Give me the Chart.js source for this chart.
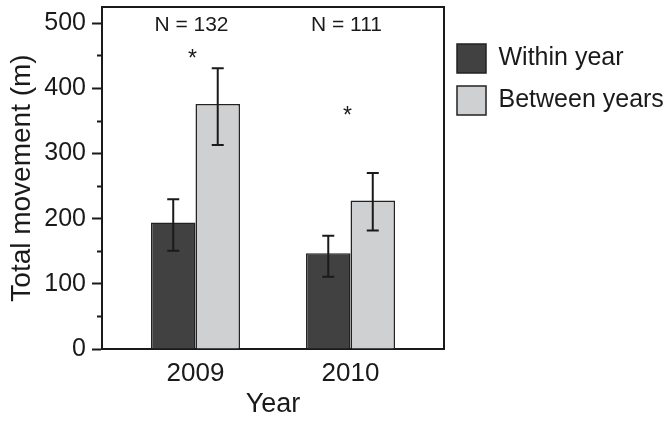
<!DOCTYPE html>
<html>
<head>
<meta charset="utf-8">
<script src="https://cdn.jsdelivr.net/npm/chart.js@4/dist/chart.umd.min.js"></script>
<style>
  body { margin: 0; background: #fff; }
  #wrap { width: 671px; height: 421px; }
</style>
</head>
<body>
<div id="wrap"><canvas id="chart" width="671" height="421"></canvas></div>
<script>
// data
const years = ['2009', '2010'];
const withinYear = [194, 147];
const withinLow = [151, 111];
const withinHigh = [230, 174];
const betweenYears = [376, 228];
const betweenLow = [313, 182];
const betweenHigh = [431, 270];
const nLabels = ['N = 132', 'N = 111'];
const nLabelY = 497;
const starY = [455, 367];
const yTicks = [0, 50, 100, 150, 200, 250, 300, 350, 400, 450, 500];

const INK = '#1a1a1a';
Chart.defaults.font.family = '"Liberation Sans", Arial, sans-serif';
Chart.defaults.color = INK;

// box round the plot area (top and right sides)
const frame = {
  id: 'frame',
  beforeDatasetsDraw(chart) {
    const { ctx, chartArea: a } = chart;
    ctx.save();
    ctx.strokeStyle = INK;
    ctx.lineWidth = 2;
    ctx.beginPath();
    ctx.moveTo(a.left, a.top);
    ctx.lineTo(a.right, a.top);
    ctx.lineTo(a.right, a.bottom);
    ctx.stroke();
    ctx.restore();
  }
};

// error bars + N labels + asterisks
const extras = {
  id: 'extras',
  afterDatasetsDraw(chart) {
    const { ctx } = chart;
    const x = chart.scales.x, y = chart.scales.y;
    const lows = [withinLow, betweenLow];
    const highs = [withinHigh, betweenHigh];
    ctx.save();
    ctx.strokeStyle = INK;
    ctx.lineWidth = 2;
    chart.data.datasets.forEach((ds, di) => {
      chart.getDatasetMeta(di).data.forEach((bar, i) => {
        const cx = bar.x;
        const yl = y.getPixelForValue(lows[di][i]);
        const yh = y.getPixelForValue(highs[di][i]);
        ctx.beginPath();
        ctx.moveTo(cx, yl); ctx.lineTo(cx, yh);
        ctx.moveTo(cx - 6, yl); ctx.lineTo(cx + 6, yl);
        ctx.moveTo(cx - 6, yh); ctx.lineTo(cx + 6, yh);
        ctx.stroke();
      });
    });
    ctx.fillStyle = INK;
    ctx.textAlign = 'center';
    ctx.textBaseline = 'middle';
    ctx.font = '21px "Liberation Sans", Arial, sans-serif';
    years.forEach((yr, i) => {
      const cx = x.getPixelForValue(i) - 4;
      ctx.fillText(nLabels[i], cx, y.getPixelForValue(nLabelY));
    });
    ctx.font = '23px "Liberation Sans", Arial, sans-serif';
    ctx.textBaseline = 'alphabetic';
    years.forEach((yr, i) => {
      const cx = x.getPixelForValue(i) - 3;
      ctx.fillText('*', cx, y.getPixelForValue(starY[i]) + 13);
    });
    ctx.restore();
  }
};

new Chart(document.getElementById('chart'), {
  type: 'bar',
  data: {
    datasets: [
      {
        label: 'Within year',
        data: years.map((yr, i) => ({ x: i, y: withinYear[i] })),
        backgroundColor: '#414141',
        borderColor: '#222',
        borderWidth: 1.5,
        borderSkipped: 'start'
      },
      {
        label: 'Between years',
        data: years.map((yr, i) => ({ x: i, y: betweenYears[i] })),
        backgroundColor: '#cfd0d2',
        borderColor: '#222',
        borderWidth: 1.5,
        borderSkipped: 'start'
      }
    ]
  },
  options: {
    responsive: false,
    animation: false,
    categoryPercentage: 0.574,
    barPercentage: 1,
    layout: { padding: { top: 7, left: 0, right: 0, bottom: 0 } },
    plugins: {
      tooltip: { enabled: false },
      legend: {
        position: 'right',
        align: 'start',
        maxWidth: 227,
        title: { display: true, text: ' ', color: 'transparent', font: { size: 10, lineHeight: 1 }, padding: { top: 14, bottom: 0 } },
        labels: {
          boxWidth: 29,
          boxHeight: 29,
          padding: 13,
          color: INK,
          font: { size: 25 }
        }
      }
    },
    scales: {
      x: {
        type: 'linear',
        min: -0.603,
        max: 1.603,
        offset: false,
        afterBuildTicks: s => { s.ticks = years.map((yr, i) => ({ value: i })); },
        afterFit: s => { s.height = 72; },
        grid: { display: false, drawTicks: false },
        border: { display: true, color: INK, width: 2 },
        ticks: {
          padding: 9,
          autoSkip: false,
          maxRotation: 0,
          font: { size: 26 },
          callback: v => years[v] ?? ''
        },
        title: { display: true, text: 'Year', font: { size: 27 }, padding: { top: 0, bottom: 0 } }
      },
      y: {
        min: 0,
        max: 525,
        afterBuildTicks: s => { s.ticks = yTicks.map(v => ({ value: v })); },
        afterFit: s => { s.width = 102; s.paddingTop = 0; },
        grid: {
          display: true,
          drawOnChartArea: false,
          tickLength: 10,
          tickWidth: 2,
          tickColor: INK,
          tickBorderDash: ctx => (ctx.tick && ctx.tick.value % 100 !== 0) ? [0, 5, 10] : []
        },
        border: { display: true, color: INK, width: 2 },
        ticks: {
          padding: 6,
          autoSkip: false,
          font: { size: 25 },
          callback: v => (v % 100 === 0 ? String(v) : '')
        },
        title: { display: true, text: 'Total movement (m)', font: { size: 28 }, padding: { top: 5, bottom: 7.4 } }
      }
    }
  },
  plugins: [frame, extras]
});
</script>
</body>
</html>
